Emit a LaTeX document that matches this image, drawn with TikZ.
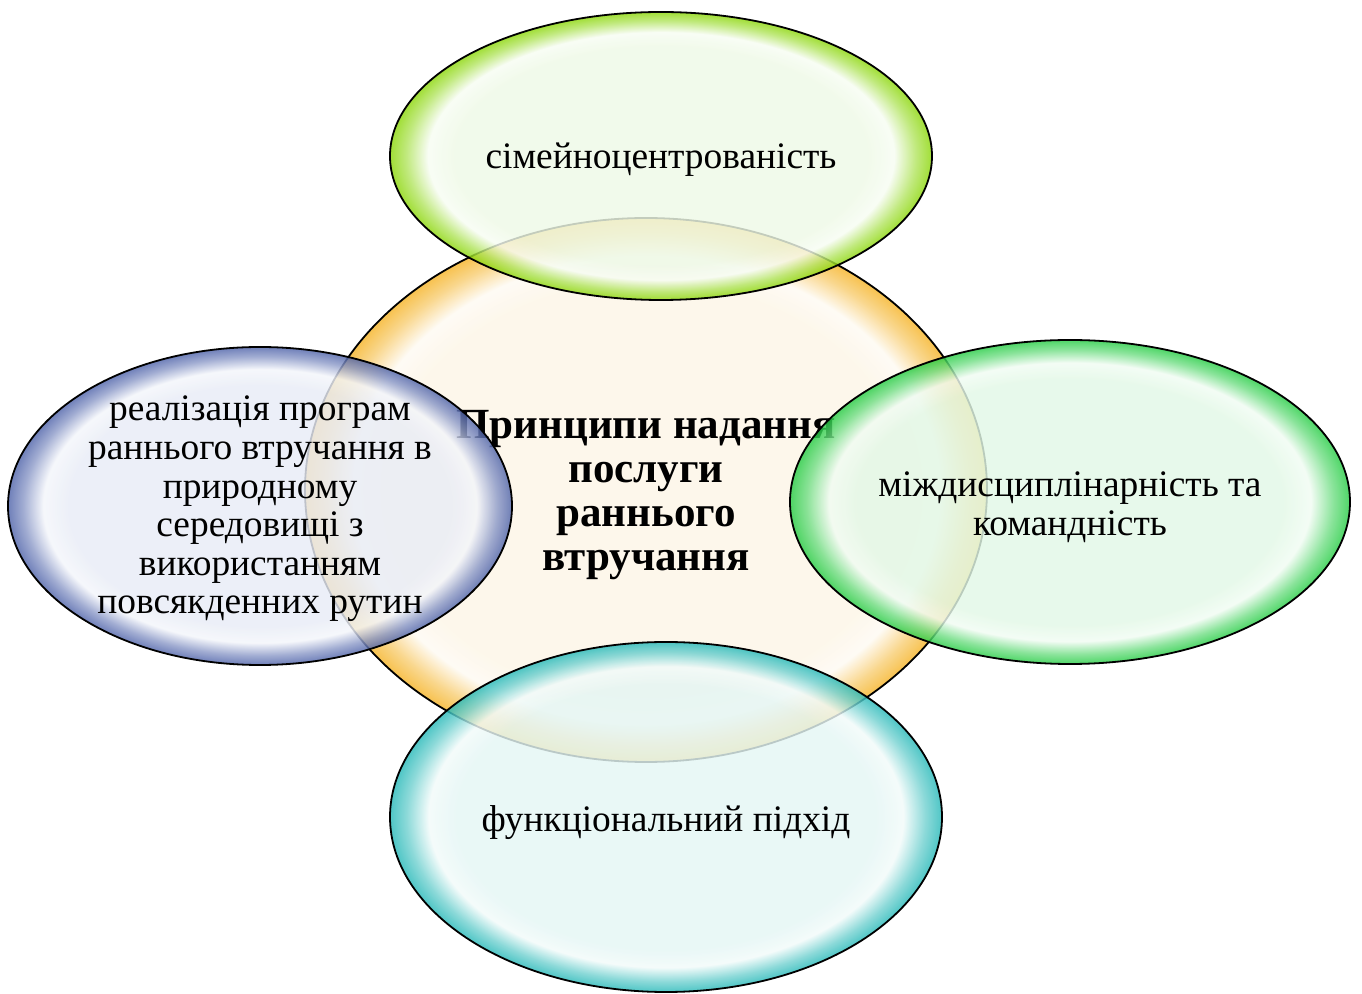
\documentclass[tikz,border=0pt]{standalone}
\usepackage{fontspec}
\setmainfont{Liberation Serif}
\usetikzlibrary{shapes.geometric}

\definecolor{limepale}{RGB}{238,249,230}
\definecolor{limeedge}{RGB}{140,215,10}
\definecolor{sandpale}{RGB}{253,245,230}
\definecolor{sandedge}{RGB}{245,180,40}
\definecolor{bluepale}{RGB}{232,236,246}
\definecolor{blueedge}{RGB}{80,100,170}
\definecolor{greenpale}{RGB}{226,248,230}
\definecolor{greenedge}{RGB}{40,205,70}
\definecolor{tealpale}{RGB}{228,246,244}
\definecolor{tealedge}{RGB}{40,185,185}

% glossy radial fill: pale inside, light streak, coloured rim
\newcommand{\makebubble}[3]{%
  \pgfdeclareradialshading{#1}{\pgfpoint{0bp}{0bp}}{%
    color(0bp)=(#2); color(19bp)=(#2); color(21.5bp)=(white!50!#2);
    color(23.5bp)=(#3!60!#2); color(25bp)=(#3); color(50bp)=(#3)}}
\makebubble{limebubble}{limepale}{limeedge}
\makebubble{sandbubble}{sandpale}{sandedge}
\makebubble{bluebubble}{bluepale}{blueedge}
\makebubble{greenbubble}{greenpale}{greenedge}
\makebubble{tealbubble}{tealpale}{tealedge}

\tikzset{
  bubble/.style={ellipse, draw=black, line width=0.9pt, fill opacity=0.82, inner sep=0pt},
  caption/.style={align=center, inner sep=0pt, font=\fontsize{18.7}{19.3}\selectfont},
  title/.style={caption, font=\fontsize{21.5}{22}\selectfont\bfseries}
}

\begin{document}
\begin{tikzpicture}[x=0.5pt,y=-0.5pt]
\useasboundingbox (0,0) rectangle (1362,994);

\node[bubble,shading=sandbubble,minimum width=341pt,minimum height=272pt] (core) at (646,490) {};
\node[title] (core text) at ([yshift=-2.5pt]core.center)
  {Принципи надання\\послуги\\раннього\\втручання};

\node[bubble,shading=limebubble,minimum width=271pt,minimum height=144pt] (family) at (661,156) {};
\node[caption] (family text) at ([yshift=-2pt]family.center) {сімейноцентрованість};

\node[bubble,shading=bluebubble,minimum width=252pt,minimum height=159pt] (natural) at (260,506) {};
\node[caption] (natural text) at ([yshift=-1.5pt]natural.center)
  {реалізація програм\\раннього втручання в\\природному\\середовищі з\\використанням\\повсякденних рутин};

\node[bubble,shading=greenbubble,minimum width=280pt,minimum height=162pt] (team) at (1070,502) {};
\node[caption] (team text) at ([yshift=-2.5pt]team.center) {міждисциплінарність та\\командність};

\node[bubble,shading=tealbubble,minimum width=276pt,minimum height=175pt] (function) at (666,817) {};
\node[caption] (function text) at ([yshift=-3pt]function.center) {функціональний підхід};
\end{tikzpicture}
\end{document}
